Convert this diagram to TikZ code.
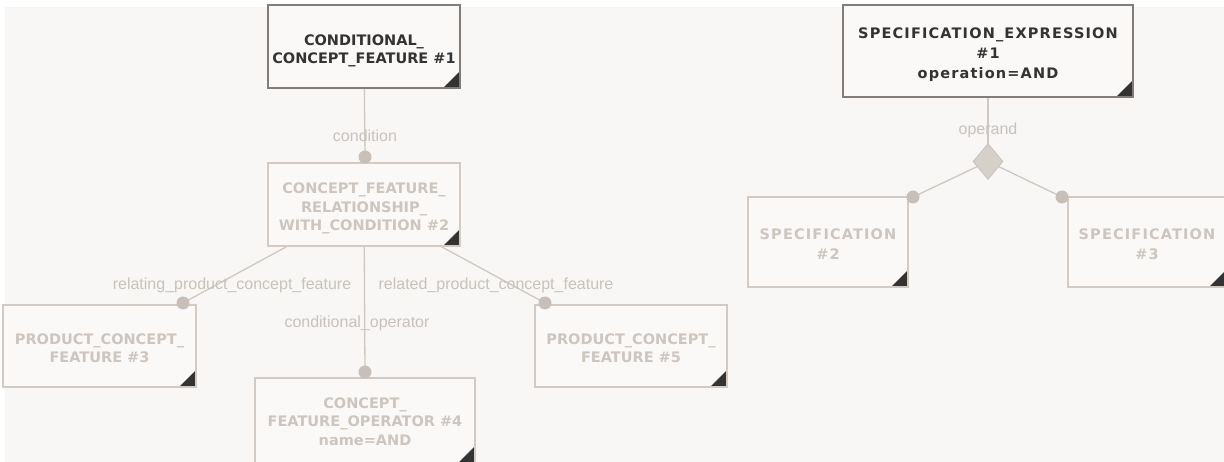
\documentclass[tikz,border=0pt]{standalone}
\usepackage{fontspec}
\setmainfont{Liberation Sans}
\newfontfamily\boxfont{DejaVu Sans}
\newfontfamily\specfont{DejaVu Sans}[LetterSpace=8]
\usetikzlibrary{shapes.geometric}
\pgfdeclarelayer{back}
\pgfdeclarelayer{bg}
\pgfsetlayers{back,bg,main}
\definecolor{pagebg}{HTML}{F8F7F5}
\definecolor{boxfill}{HTML}{FAF9F8}
\definecolor{darkborder}{HTML}{837C77}
\definecolor{lightborder}{HTML}{D2CAC3}
\definecolor{labeltext}{HTML}{C9C2BB}
\definecolor{lighttext}{HTML}{CDC5BE}
\definecolor{dotfill}{HTML}{C8BFB8}
\definecolor{linecol}{HTML}{CFC8C2}
\definecolor{diafill}{HTML}{D6D0CB}
\definecolor{diadraw}{HTML}{C9C2BC}
\definecolor{tricol}{HTML}{333333}
\definecolor{darktext}{HTML}{333333}
\begin{document}
\begin{tikzpicture}[x=1pt,y=-1pt,
  ebox/.style={rectangle, draw=lightborder, line width=2pt, fill=boxfill,
    inner sep=0pt,
    path picture={\fill[tricol] ([xshift=-1pt,yshift=1pt]path picture bounding box.south east)
       -- ++(-15pt,0pt) -- ++(15pt,15pt) -- cycle;}},
  dbox/.style={ebox, draw=darkborder},
  etext/.style={inner sep=0pt, align=center, text=lighttext,
    font=\boxfont\bfseries\fontsize{14.5pt}{18.5pt}\selectfont},
  dtext/.style={etext, text=darktext},
  stext/.style={font=\specfont\bfseries\fontsize{14.5pt}{20pt}\selectfont},
  dot/.style={circle, fill=dotfill, inner sep=0pt, minimum size=13pt},
  conn/.style={draw=linecol, line width=1.3pt},
  lbl/.style={text=labeltext, inner sep=0pt, font=\fontsize{16pt}{18pt}\selectfont},
  dia/.style={diamond, fill=diafill, draw=diadraw, line width=0.8pt, inner sep=0pt,
    minimum width=30pt, minimum height=36pt}]
\begin{pgfonlayer}{back}
  \fill[white] (0,0) rectangle (1224,462);
  \fill[pagebg] (5,7) rectangle (1224,462);
\end{pgfonlayer}
\useasboundingbox (0,0) rectangle (1224,462);

% boxes
\node[dbox, minimum width=192pt, minimum height=83pt] (b1) at (364,46.5) {};
\node[dtext] (t1) at (364,51) {CONDITIONAL\_\\CONCEPT\_FEATURE \#1};
\node[ebox, minimum width=192pt, minimum height=83pt] (b2) at (364,204.5) {};
\node[etext] (t2) at (364,208.5) {CONCEPT\_FEATURE\_\\RELATIONSHIP\_\\WITH\_CONDITION \#2};
\node[ebox, minimum width=193pt, minimum height=82pt] (b3) at (99.5,346) {};
\node[etext] (t3) at (99.5,348) {PRODUCT\_CONCEPT\_\\FEATURE \#3};
\node[ebox, minimum width=192pt, minimum height=82pt] (b5) at (631,346) {};
\node[etext] (t5) at (631,348) {PRODUCT\_CONCEPT\_\\FEATURE \#5};
\node[ebox, minimum width=220pt, minimum height=85pt] (b4) at (365,420.5) {};
\node[etext] (t4) at (365,421.5) {CONCEPT\_\\FEATURE\_OPERATOR \#4\\name=AND};
\node[dbox, minimum width=290pt, minimum height=92pt] (s1) at (988,51) {};
\node[dtext, stext] (u1) at (988,55)
  {SPECIFICATION\_EXPRESSION\\\#1\\operation=AND};
\node[ebox, minimum width=160pt, minimum height=90pt] (s2) at (828,242) {};
\node[etext, stext] (u2) at (828,244) {SPECIFICATION\\\#2};
\node[ebox, minimum width=158pt, minimum height=90pt] (s3) at (1147,242) {};
\node[etext, stext] (u3) at (1147,244) {SPECIFICATION\\\#3};

% end dots and diamond
\node[dot] (c2) at (365,157) {};
\node[dot] (c3) at (183,303) {};
\node[dot] (c5) at (545,303) {};
\node[dot] (c4) at (365,372) {};
\node[dot] (cs2) at (913,197) {};
\node[dot] (cs3) at (1062,197) {};
\node[dia] (d) at (988,161.5) {};

% connectors
\begin{pgfonlayer}{bg}
  \draw[conn] (b1) -- (c2.center);
  \draw[conn] (b2.center) -- (c3.center);
  \draw[conn] (b2.center) -- (c4.center);
  \draw[conn] (b2.center) -- (c5.center);
  \draw[conn] (s1) -- (d.center);
  \draw[conn] (d.center) -- (cs2.center);
  \draw[conn] (d.center) -- (cs3.center);
\end{pgfonlayer}

% labels
\node[lbl] (l1) at (365,136) {condition};
\node[lbl] (l2) at (232,285) {relating\_product\_concept\_feature};
\node[lbl] (l3) at (496,285) {related\_product\_concept\_feature};
\node[lbl] (l4) at (357,323) {conditional\_operator};
\node[lbl] (l5) at (988,130) {operand};
\end{tikzpicture}
\end{document}
